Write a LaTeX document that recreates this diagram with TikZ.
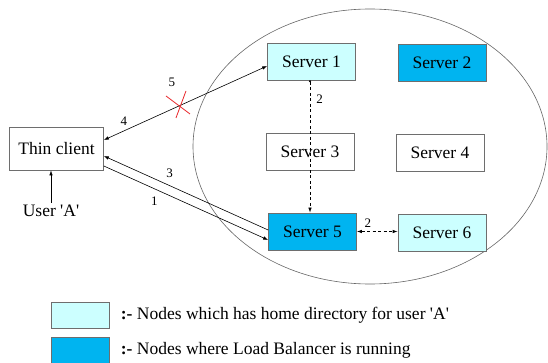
\documentclass[tikz,border=0pt]{standalone}
\usepackage{fontspec}
\setmainfont{Liberation Serif}
\usepackage{tikz}
\usetikzlibrary{arrows.meta,positioning,calc}
\definecolor{homeCyan}{HTML}{CCFFFF}
\definecolor{lbBlue}{HTML}{00B4F0}
\definecolor{boxGray}{HTML}{6E6E6E}
\definecolor{crossRed}{HTML}{E8262A}

\begin{document}
\begin{tikzpicture}[
    x=1pt, y=-1pt,
    >={Latex[length=5pt,width=3.5pt]},
    every node/.style={font=\fontsize{17.5}{20}\selectfont, align=center},
    srvbox/.style={draw=boxGray, line width=0.7pt, minimum width=88pt, minimum height=37pt, inner sep=0pt, fill=white},
    lbl/.style={font=\fontsize{13}{15}\selectfont, inner sep=2pt},
    link/.style={line width=0.6pt},
    dlink/.style={line width=0.7pt, dash pattern=on 3pt off 2.5pt}
]
    \useasboundingbox (0,0) rectangle (548,363);

    % cluster
    \draw[black!60, line width=0.6pt] (370,146.5) ellipse [x radius=177, y radius=137.5];

    \node[srvbox, fill=homeCyan] (s1) at (311.5,61.5) {Server 1};
    \node[srvbox, fill=lbBlue] (s2) at (442,63) {Server 2};
    \node[srvbox] (s3) at (310,151.5) {Server 3};
    \node[srvbox] (s4) at (440,153) {Server 4};
    \node[srvbox, fill=lbBlue] (s5) at (312.5,231.5) {Server 5};
    \node[srvbox, fill=homeCyan] (s6) at (442,232.5) {Server 6};

    \node[srvbox, minimum width=94pt, minimum height=43pt] (tc) at (56.5,148.5) {Thin client};
    \node[inner sep=2pt] (ua) at (51,211) {User \textquotesingle A\textquotesingle};

    \draw[->, link] (ua.north) -- (ua.north |- tc.south);

    \draw[<->, link] ([yshift=-4.5pt]s1.west) -- coordinate[pos=0.54] (cut) node[lbl, pos=0.877, above=3pt]{4} ([yshift=8.5pt]tc.east);
    \draw[->, link] ([yshift=1.5pt]s5.west) -- node[lbl, pos=0.6, above=6pt]{3} ([yshift=-7.5pt]tc.east);
    \draw[->, link] ([yshift=-17.5pt]tc.east) -- node[lbl, pos=0.307, below=6pt]{1} ([yshift=-8.5pt]s5.west);

    % failed request
    \draw[crossRed, line width=0.8pt] ($(cut)+(-13,-10)$) -- ($(cut)+(11,8)$);
    \draw[crossRed, line width=0.8pt] ($(cut)+(-3,12)$) -- ($(cut)+(7,-15)$);
    \node[lbl, above=17pt of cut, xshift=-7pt] (l5) {5};

    \draw[dlink, {Circle[length=2pt]}->] ([xshift=-1.5pt]s1.south) -- node[lbl, pos=0.14, right=4pt]{2} ([xshift=-2.5pt]s5.north);
    \draw[dlink, <->] (s5.east) -- node[lbl, pos=0.27, above=2pt]{2} (s5.east -| s6.west);

    % legend
    \node[srvbox, fill=homeCyan, minimum width=58pt, minimum height=26pt] (leg1) at (80,315) {};
    \node[srvbox, fill=lbBlue, minimum width=58pt, minimum height=26pt] (leg2) at (80,350.5) {};
    \node[anchor=west, right=8pt of leg1] (t1) {\textbf{:-} Nodes which has home directory for user \textquotesingle A\textquotesingle};
    \node[anchor=west, right=8pt of leg2] (t2) {\textbf{:-} Nodes where Load Balancer is running};
\end{tikzpicture}
\end{document}
